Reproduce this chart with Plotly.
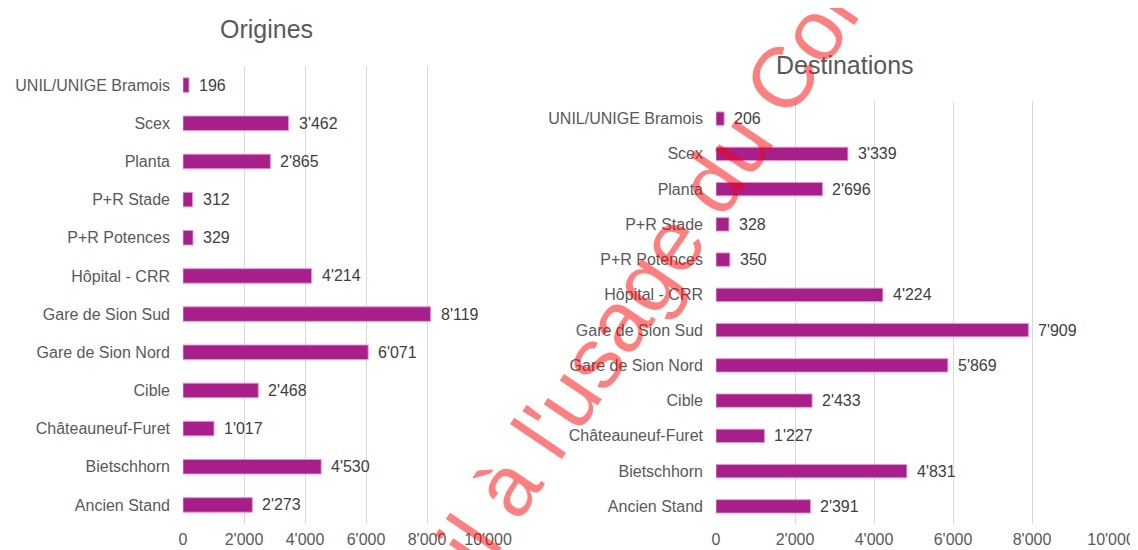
import plotly.graph_objects as go

categories = ["UNIL/UNIGE Bramois", "Scex", "Planta", "P+R Stade", "P+R Potences",
              "Hôpital - CRR", "Gare de Sion Sud", "Gare de Sion Nord", "Cible",
              "Châteauneuf-Furet", "Bietschhorn", "Ancien Stand"]
origines = [196, 3462, 2865, 312, 329, 4214, 8119, 6071, 2468, 1017, 4530, 2273]
destinations = [206, 3339, 2696, 328, 350, 4224, 7909, 5869, 2433, 1227, 4831, 2391]
x_ticks = [0, 2000, 4000, 6000, 8000, 10000]
titles = ["Origines", "Destinations"]
watermark = "il à l'usage du Comité"

# page body has an 8px margin: figure is placed at (8, 8) in the window
OFF = 8
W, H = 1138 - OFF, 550 - OFF
BAR = "#a81f8c"
FONT = "Liberation Sans, Arial, sans-serif"

fig = go.Figure()

def px_x(p):
    return (p - OFF) / W

def px_y(p):
    return 1 - (p - OFF) / H

panels = [
    dict(vals=origines, xa="x", ya="y", xdom=[px_x(183), px_x(488)], ydom=[px_y(524), px_y(66)],
         title=titles[0], tx=266, ty=29),
    dict(vals=destinations, xa="x2", ya="y2", xdom=[px_x(716), px_x(1111)], ydom=[px_y(524), px_y(101)],
         title=titles[1], tx=845, ty=65),
]

annotations = []
for i, p in enumerate(panels):
    fig.add_trace(go.Bar(
        x=p["vals"], y=categories, orientation="h", xaxis=p["xa"], yaxis=p["ya"],
        marker=dict(color=BAR, line=dict(color="rgba(230,150,210,0.9)", width=1)),
        width=0.38, showlegend=False, hoverinfo="x+y",
    ))
    for c, v in zip(categories, p["vals"]):
        annotations.append(dict(
            x=v, y=c, xref=p["xa"], yref=p["ya"], text=f"{v:,}".replace(",", "'"),
            showarrow=False, xanchor="left", yanchor="middle", xshift=8,
            font=dict(family=FONT, size=16, color="#404040"),
        ))
    annotations.append(dict(
        x=px_x(p["tx"]), y=px_y(p["ty"]), xref="paper", yref="paper", text=p["title"],
        showarrow=False, xanchor="center", yanchor="middle",
        font=dict(family=FONT, size=25, color="#595959"),
    ))

annotations.append(dict(
    x=px_x(688), y=px_y(218), xref="paper", yref="paper", text=watermark,
    showarrow=False, textangle=-56, xanchor="center", yanchor="middle",
    font=dict(family=FONT, size=86, color="rgba(255,0,0,0.5)"),
))

layout = dict(
    width=W, height=H, margin=dict(l=0, r=0, t=0, b=0, autoexpand=False),
    paper_bgcolor="white", plot_bgcolor="white",
    separators=".'", bargap=0.6,
    annotations=annotations,
    font=dict(family=FONT, size=16, color="#595959"),
)
for i, p in enumerate(panels):
    sfx = "" if i == 0 else str(i + 1)
    layout["xaxis" + sfx] = dict(
        domain=p["xdom"], anchor=p["ya"], range=[0, 10000], tickvals=x_ticks,
        tickformat=",", showgrid=True, gridcolor="#d9d9d9", gridwidth=1,
        zeroline=False, showline=False, ticks="", fixedrange=True,
        ticklabelstandoff=4, automargin=False,
        tickfont=dict(family=FONT, size=16, color="#595959"),
    )
    layout["yaxis" + sfx] = dict(
        domain=p["ydom"], anchor=p["xa"], categoryorder="array",
        categoryarray=categories[::-1], autorange=True,
        showgrid=False, zeroline=False, showline=False, ticks="",
        ticklabelstandoff=12, fixedrange=True, automargin=False,
        tickfont=dict(family=FONT, size=16, color="#595959"),
    )

fig.update_layout(**layout)
fig.write_html("out.html")
